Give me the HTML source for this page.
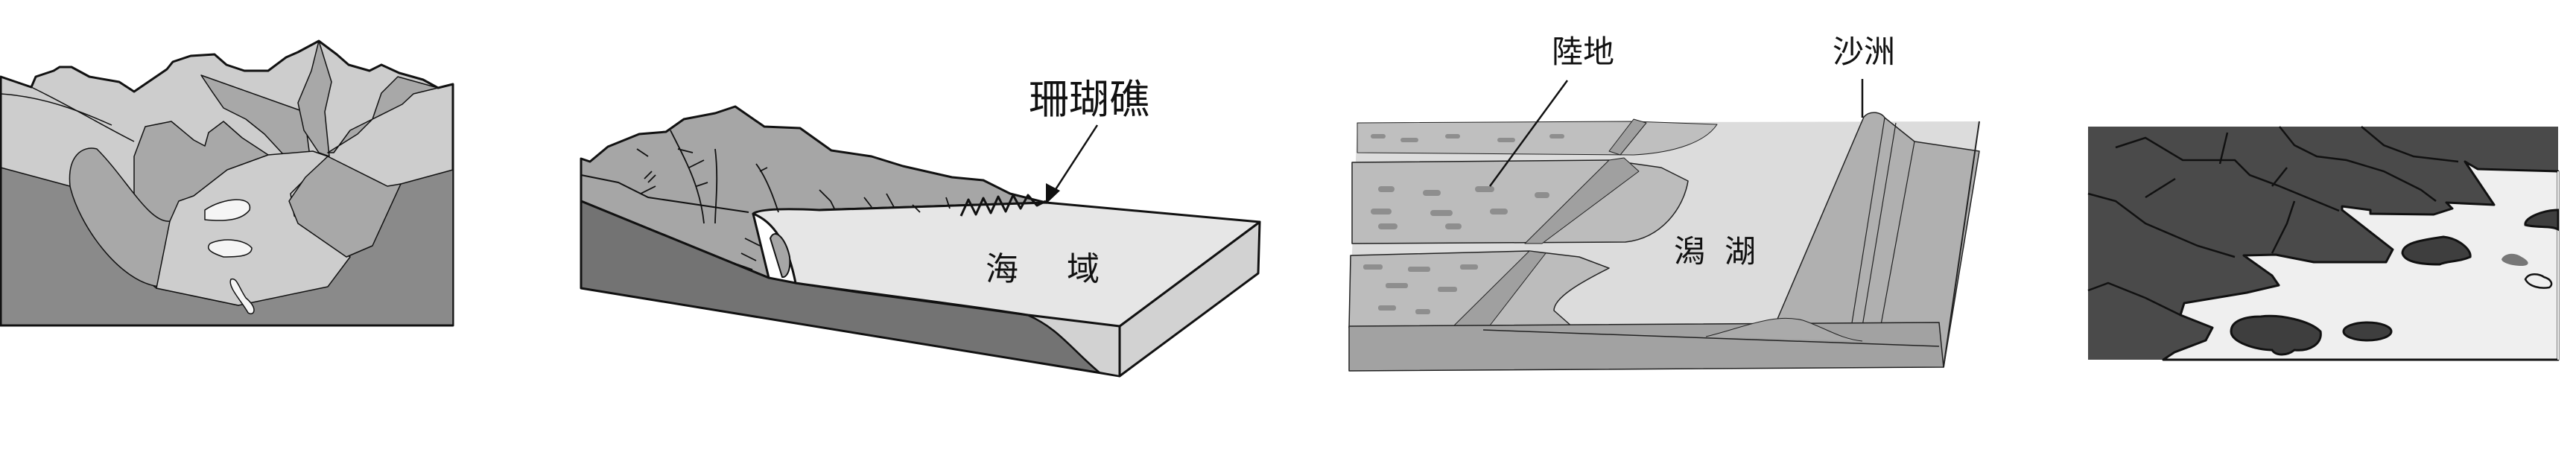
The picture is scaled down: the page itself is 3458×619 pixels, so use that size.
<!DOCTYPE html>
<html><head><meta charset="utf-8"><style>
html,body{margin:0;padding:0;background:#fff;width:3458px;height:619px;overflow:hidden}
svg{display:block}
text{font-family:"Liberation Sans","Noto Sans CJK TC","Noto Sans CJK SC",sans-serif;fill:#111}
</style></head><body>
<svg width="3458" height="619" viewBox="0 0 3458 619" xmlns="http://www.w3.org/2000/svg">
<rect width="3458" height="619" fill="#fff"/>

<!-- PANEL 1: glacial valley -->
<g stroke="#111" stroke-linejoin="round">
<path d="M1,103 L42,117 L48,103 L72,95 L80,90 L96,90 L120,103 L160,110 L180,123 L224,93 L232,83 L256,75 L288,73 L304,87 L328,95 L360,95 L384,77 L400,70 L428,55 L452,73 L468,87 L496,95 L512,87 L536,98 L568,107 L588,118 L608,113 L608,437 L1,437 Z" fill="#cdcdcd" stroke-width="3"/>
<path d="M270,101 L284,122 L300,145 L330,160 L355,180 L380,207 L390,240 L420,240 L408,150 Z" fill="#a8a8a8" stroke-width="1.5"/>
<path d="M428,55 L418,95 L400,138 L408,175 L428,205 L442,210 L436,150 L445,110 Z" fill="#a8a8a8" stroke-width="1.5"/>
<path d="M534,103 L512,125 L500,160 L470,175 L448,205 L440,205 L480,180 L500,160 L540,140 L555,126 L588,118 Z" fill="#a8a8a8" stroke-width="1.5"/>
<path d="M180,210 L195,170 L230,163 L260,188 L275,196 L280,178 L300,163 L325,185 L360,208 L360,250 L230,300 L180,290 Z" fill="#a8a8a8" stroke-width="1.5"/>
<path d="M1,225 L94,250 L140,330 L210,387 L320,410 L420,370 L500,310 L538,247 L608,228 L608,437 L1,437 Z" fill="#8a8a8a" stroke-width="1.5"/>
<path d="M94,250 C90,210 110,195 130,200 C170,240 200,300 228,297 L215,385 C160,380 105,300 94,250 Z" fill="#a8a8a8" stroke-width="1.5"/>
<path d="M228,297 L240,270 L260,263 L305,228 L360,208 L420,203 L440,210 L410,240 L390,260 L395,290 L470,345 L440,385 L320,410 L210,387 Z" fill="#cdcdcd" stroke-width="1.5"/>
<path d="M440,210 L520,250 L538,247 L500,330 L465,345 L400,300 L388,270 L410,238 Z" fill="#a8a8a8" stroke-width="1.5"/>
<path d="M275,282 C300,265 340,262 335,282 C325,295 305,298 275,295 Z" fill="#f5f5f5" stroke-width="1.5"/>
<path d="M282,327 C300,318 330,322 338,333 C338,345 315,345 300,345 C285,340 275,335 282,327 Z" fill="#f5f5f5" stroke-width="1.5"/>
<path d="M310,375 C318,372 320,385 330,400 C348,415 340,425 333,420 C325,405 305,385 310,375 Z" fill="#f5f5f5" stroke-width="1.5"/>
<path d="M1,103 L1,437 L608,437" fill="none" stroke-width="3"/>
<path d="M1,126 C60,130 110,150 150,168" fill="none" stroke-width="1.5"/>
<path d="M42,117 C90,140 140,170 180,190" fill="none" stroke-width="1.5"/>
</g>

<!-- PANEL 2: coral reef block -->
<g stroke="#111" stroke-linejoin="round">
<path d="M780,213 L792,217 L816,197 L858,180 L894,177 L918,160 L960,152 L987,143 L1026,170 L1074,172 L1116,202 L1170,210 L1212,223 L1278,238 L1320,242 L1356,260 L1404,272 L1100,282 L1011,287 L1032,373 L780,270 Z" fill="#a6a6a6" stroke-width="3"/>
<path d="M780,270 L1032,373 L1068,380 L1150,392 L1300,412 L1380,423 C1420,440 1440,470 1476,500 L1503,505 L780,387 Z" fill="#737373" stroke-width="3"/>
<path d="M1380,423 L1503,438 L1503,505 L1476,500 C1440,470 1420,440 1380,423 Z" fill="#d2d2d2" stroke-width="2"/>
<path d="M1503,438 L1691,298 L1689,367 L1503,505 Z" fill="#d2d2d2" stroke-width="3"/>
<path d="M1011,287 C1020,280 1060,280 1100,282 L1404,272 L1691,298 L1503,438 L1380,423 C1300,410 1150,392 1068,380 C1060,340 1045,300 1011,287 Z" fill="#e6e6e6" stroke-width="3"/>
<path d="M1034,320 C1040,305 1055,320 1060,345 C1062,365 1055,373 1050,372 Z" fill="#a6a6a6" stroke-width="2"/>
<path d="M780,235 L830,245 L870,265 L1005,285" fill="none" stroke-width="2"/>
<g fill="none" stroke-width="1.8">
<path d="M900,175 C920,215 940,250 945,300 M910,200 L930,205 M925,225 L945,215 M935,250 L950,245 M960,200 C965,240 960,280 960,300"/>
<path d="M880,235 L870,245 M875,230 L865,240 M855,200 L870,210 M860,260 L880,250"/>
<path d="M1015,220 C1030,240 1040,270 1045,285 M1020,230 L1030,225 M1100,255 L1115,270 L1120,280 M1160,265 L1170,278 M1190,260 L1200,278 M1225,275 L1235,285 M1270,265 L1275,280"/>
<path d="M1000,320 L1020,330 M995,340 L1015,350 M990,355 L1010,362"/>
</g>
<path d="M1290,290 L1300,268 L1310,288 L1320,266 L1330,286 L1340,264 L1350,284 L1360,262 L1370,280 L1380,262 L1392,276 L1404,270" fill="none" stroke-width="3"/>
</g>
<line x1="1473" y1="168" x2="1412" y2="262" stroke="#111" stroke-width="2.5"/>
<polygon points="1404,274 1404,246 1423,256" fill="#111"/>
<text x="1381" y="152" font-size="54">珊瑚礁</text>
<text x="1323" y="376" font-size="44">海</text>
<text x="1432" y="376" font-size="44">域</text>

<!-- PANEL 3: lagoon -->
<g stroke="#222" stroke-linejoin="round">
<path d="M1822,165 L2657,163 L2609,493 L1811,498 L1811,438 Z" fill="#dcdcdc" stroke="none"/>
<path d="M1822,165 L2193,163 L2305,167 C2290,190 2250,205 2193,208 L1822,205 Z" fill="#bfbfbf" stroke-width="1"/>
<path d="M1815,218 L2160,215 L2230,225 L2266,243 C2260,280 2230,320 2182,325 L1815,327 Z" fill="#bcbcbc" stroke-width="1.5"/>
<path d="M1813,343 L2053,337 L2120,345 L2160,360 C2120,380 2086,400 2086,417 L2120,447 L1811,440 Z" fill="#bcbcbc" stroke-width="1.5"/>
<path d="M2193,160 L2210,165 L2175,208 L2160,203 Z" fill="#a0a0a0" stroke-width="1"/>
<path d="M2160,215 L2180,212 L2200,230 L2070,327 L2047,327 Z" fill="#a0a0a0" stroke-width="1"/>
<path d="M2053,337 L2075,340 L2000,437 L1952,437 Z" fill="#a0a0a0" stroke-width="1"/>
<path d="M2502,157 C2510,148 2525,150 2530,158 L2570,190 L2657,203 L2609,493 L2485,440 L2384,433 Z" fill="#b0b0b0" stroke-width="1.5"/>
<path d="M2530,158 L2485,440 M2545,165 L2500,438 M2570,190 L2525,436" fill="none" stroke-width="1.2"/>
<path d="M1811,438 L2603,433 L2609,493 L1811,498 Z" fill="#a2a2a2" stroke-width="1.5"/>
<path d="M1991,443 L2603,465" fill="none" stroke-width="1.5"/>
<path d="M2290,452 C2340,440 2380,420 2420,430 C2450,440 2470,455 2500,458" fill="#aaaaaa" stroke-width="1"/>
<path d="M2657,163 L2609,493" fill="none" stroke-width="2"/>
<g fill="#8e8e8e" stroke="none">
<rect x="1840" y="180" width="20" height="6" rx="3"/><rect x="1880" y="185" width="24" height="6" rx="3"/><rect x="1940" y="180" width="20" height="6" rx="3"/><rect x="2010" y="185" width="24" height="6" rx="3"/><rect x="2080" y="180" width="20" height="6" rx="3"/>
<rect x="1850" y="250" width="22" height="8" rx="4"/><rect x="1910" y="255" width="24" height="8" rx="4"/><rect x="1980" y="250" width="26" height="8" rx="4"/><rect x="2060" y="258" width="20" height="8" rx="4"/>
<rect x="1840" y="280" width="28" height="8" rx="4"/><rect x="1920" y="282" width="30" height="8" rx="4"/><rect x="2000" y="280" width="24" height="8" rx="4"/>
<rect x="1850" y="300" width="26" height="8" rx="4"/><rect x="1940" y="300" width="22" height="8" rx="4"/>
<rect x="1830" y="355" width="26" height="7" rx="3"/><rect x="1890" y="358" width="30" height="7" rx="3"/><rect x="1960" y="355" width="24" height="7" rx="3"/>
<rect x="1860" y="380" width="30" height="7" rx="3"/><rect x="1930" y="385" width="26" height="7" rx="3"/>
<rect x="1850" y="410" width="24" height="7" rx="3"/><rect x="1900" y="415" width="20" height="7" rx="3"/>
</g>
</g>
<line x1="2104" y1="108" x2="2000" y2="250" stroke="#111" stroke-width="2.5"/>
<line x1="2500" y1="106" x2="2500" y2="158" stroke="#111" stroke-width="2.5"/>
<text x="2083" y="84" font-size="42">陸地</text>
<text x="2460" y="84" font-size="42">沙洲</text>
<text x="2247" y="352" font-size="42">潟</text>
<text x="2315" y="352" font-size="42">湖</text>

<!-- PANEL 4: ria coast -->
<rect x="2803" y="170" width="631" height="313" fill="#4a4a4a"/>
<path d="M3434,230 L3326,227 L3309,217 L3348,275 L3284,272 L3292,280 L3267,288 L3182,287 L3182,282 L3144,277 L3144,282 L3212,335 L3203,352 L3106,352 L3055,342 L3012,343 L3050,370 L3059,383 L3016,393 L2932,407 L2927,423 L2970,440 L2961,457 L2919,473 L2904,483 L3434,483 Z" fill="#efefef" stroke="#111" stroke-width="3" stroke-linejoin="round"/>
<path d="M3434,483 L3434,230" stroke="#efefef" stroke-width="2"/>
<g stroke="#111" stroke-width="3">
<path d="M2995,445 C2995,430 3015,425 3035,425 C3060,422 3100,430 3115,445 C3118,462 3100,472 3080,470 C3070,478 3055,478 3050,470 C3030,470 2995,460 2995,445 Z" fill="#3e3e3e"/>
<ellipse cx="3178" cy="445" rx="32" ry="12" fill="#3e3e3e"/>
<path d="M3225,340 C3225,325 3255,322 3280,318 C3300,320 3318,335 3316,345 C3300,352 3285,350 3275,355 C3250,355 3228,352 3225,340 Z" fill="#3e3e3e"/>
<path d="M3434,282 C3415,282 3388,292 3390,302 C3405,306 3425,303 3434,308 Z" fill="#3e3e3e"/>
<path d="M3390,375 C3395,365 3410,368 3415,372 C3425,375 3428,382 3422,386 C3410,388 3395,385 3390,375 Z" fill="#efefef" stroke-width="2.5"/>
</g>
<path d="M3358,348 C3362,340 3375,338 3385,345 C3398,352 3395,357 3385,357 C3370,357 3358,352 3358,348 Z" fill="#777"/>
<g stroke="#111" stroke-width="2.5" fill="none">
<path d="M2840,198 L2880,185 L2930,215 L3000,215 L3020,235 L3060,250 L3140,283"/>
<path d="M2803,260 L2840,270 L2880,300 L2950,330 L3000,345"/>
<path d="M2803,390 L2830,380 L2880,400 L2927,423"/>
<path d="M3060,170 L3080,195 L3110,210 L3150,215 L3200,230 L3250,255 L3270,270"/>
<path d="M3170,170 L3200,195 L3240,210 L3300,217"/>
<path d="M2990,178 L2980,220 M3050,250 L3070,225 M3080,270 L3070,300 L3050,340 M2920,240 L2880,265"/>
</g>
</svg>
</body></html>
